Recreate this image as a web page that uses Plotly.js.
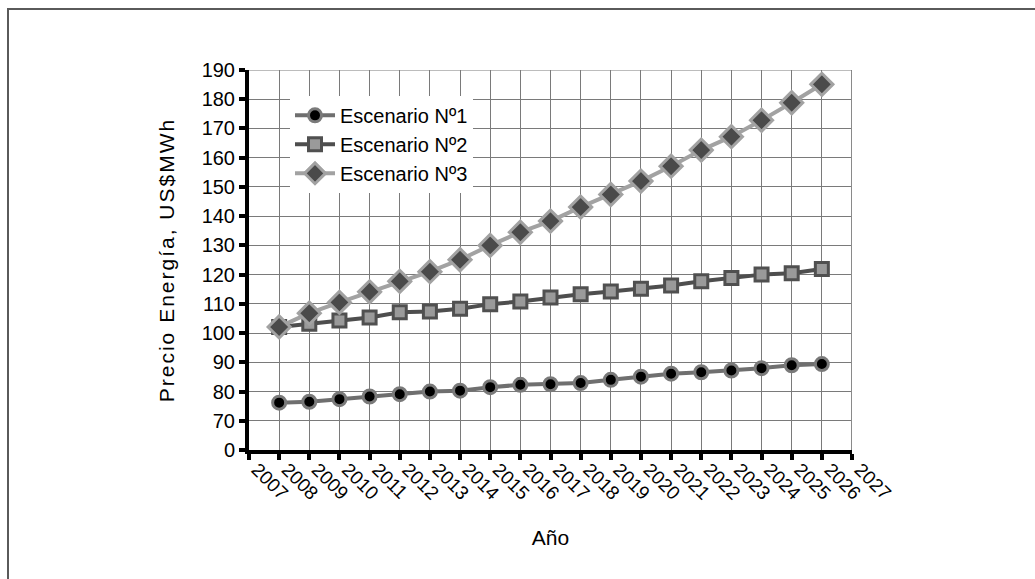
<!DOCTYPE html>
<html>
<head>
<meta charset="utf-8">
<script src="https://cdn.plot.ly/plotly-3.0.1.min.js"></script>
<style>
  html, body { margin: 0; padding: 0; background: #fff; }
  #wrap { position: relative; width: 1035px; height: 579px; overflow: hidden; }
  #frame { position: absolute; left: 7px; top: 8px; width: 1040px; height: 590px;
           border-top: 2px solid #5a5a5a; border-left: 2px solid #5a5a5a; pointer-events: none; z-index: 5; }
  #chart { position: absolute; left: 0; top: 0; width: 1035px; height: 579px; }
  #chart .ytitle { letter-spacing: 2px; }
</style>
</head>
<body>
<div id="wrap">
  <div id="chart"></div>
  <div id="frame"></div>
</div>
<script>
// Data
const years = [2008, 2009, 2010, 2011, 2012, 2013, 2014, 2015, 2016, 2017,
               2018, 2019, 2020, 2021, 2022, 2023, 2024, 2025, 2026];
const escenario1 = [76.2, 76.5, 77.4, 78.3, 79.1, 80.0, 80.3, 81.5, 82.3, 82.5,
                    82.9, 84.0, 85.1, 86.1, 86.6, 87.2, 88.0, 89.0, 89.4];
const escenario2 = [102.1, 103.2, 104.3, 105.3, 107.1, 107.4, 108.3, 109.9, 110.8, 112.2,
                    113.3, 114.2, 115.2, 116.3, 117.7, 118.8, 120.0, 120.5, 121.9];
const escenario3 = [102.1, 106.8, 110.5, 114.1, 117.7, 121.0, 125.1, 130.0, 134.5, 138.3,
                    143.1, 147.4, 152.0, 157.1, 162.6, 167.2, 172.8, 178.8, 185.1];
const seriesNames = ['Escenario Nº1', 'Escenario Nº2', 'Escenario Nº3'];

// Axis ticks (the vertical axis has a break: bottom label "0", then 70..190)
const xTickVals = [];
for (let y = 2007; y <= 2027; y++) xTickVals.push(y);
const yTickVals = [60, 70, 80, 90, 100, 110, 120, 130, 140, 150, 160, 170, 180, 190];
const yTickText = ['0', '70', '80', '90', '100', '110', '120', '130', '140', '150', '160', '170', '180', '190'];

const FONT = 'Liberation Sans, Arial, sans-serif';

const traces = [
  {
    x: years, y: escenario1, name: seriesNames[0], type: 'scatter', mode: 'lines+markers',
    line: {color: '#6f6f6f', width: 4},
    marker: {symbol: 'circle', size: 13, color: '#000000', line: {color: '#7a7a7a', width: 3}}
  },
  {
    x: years, y: escenario2, name: seriesNames[1], type: 'scatter', mode: 'lines+markers',
    line: {color: '#4e4e4e', width: 4},
    marker: {symbol: 'square', size: 13, color: '#9a9a9a', line: {color: '#505050', width: 3}}
  },
  {
    x: years, y: escenario3, name: seriesNames[2], type: 'scatter', mode: 'lines+markers',
    line: {color: '#a2a2a2', width: 4},
    marker: {symbol: 'diamond', size: 17, color: '#4a4a4a', line: {color: '#a2a2a2', width: 3}}
  }
];

const layout = {
  width: 1035, height: 579,
  margin: {l: 249, r: 183, t: 70, b: 129, pad: 0},
  paper_bgcolor: '#ffffff', plot_bgcolor: '#ffffff',
  font: {family: FONT, size: 20, color: '#000'},
  showlegend: true,
  legend: {
    x: 0.068, y: 0.932, xanchor: 'left', yanchor: 'top',
    bgcolor: '#ffffff', borderwidth: 0,
    font: {family: FONT, size: 20, color: '#000'},
    tracegroupgap: 0, itemwidth: 40
  },
  xaxis: {
    range: [2007, 2027], tickmode: 'array', tickvals: xTickVals,
    ticktext: xTickVals.map(String), tickangle: 45,
    ticklabelshift: 8, ticklabelstandoff: -9,
    showgrid: true, gridcolor: '#7a7a7a', gridwidth: 1,
    showline: true, linecolor: '#000', linewidth: 4,
    ticks: 'outside', ticklen: 6, tickwidth: 4, tickcolor: '#000',
    zeroline: false, automargin: false,
    tickfont: {family: FONT, size: 19, color: '#000'},
    title: {text: 'Año', font: {family: FONT, size: 21, color: '#000'}, standoff: 28}
  },
  yaxis: {
    range: [60, 190], tickmode: 'array', tickvals: yTickVals, ticktext: yTickText,
    showgrid: true, gridcolor: '#7a7a7a', gridwidth: 1,
    showline: true, linecolor: '#000', linewidth: 4,
    ticks: 'outside', ticklen: 6, tickwidth: 4, tickcolor: '#000',
    zeroline: false, automargin: false,
    tickfont: {family: FONT, size: 20, color: '#000'},
    title: {text: 'Precio Energía, US$MWh', font: {family: FONT, size: 21, color: '#000'}, standoff: 22}
  },
  shapes: [
    {type: 'line', xref: 'x', yref: 'y', x0: 2027, x1: 2027, y0: 60, y1: 190, line: {color: '#8a8a8a', width: 2}},
    {type: 'line', xref: 'x', yref: 'y', x0: 2007, x1: 2027, y0: 190, y1: 190, line: {color: '#7a7a7a', width: 1}}
  ]
};

Plotly.newPlot('chart', traces, layout, {displayModeBar: false, staticPlot: true});
</script>
</body>
</html>
